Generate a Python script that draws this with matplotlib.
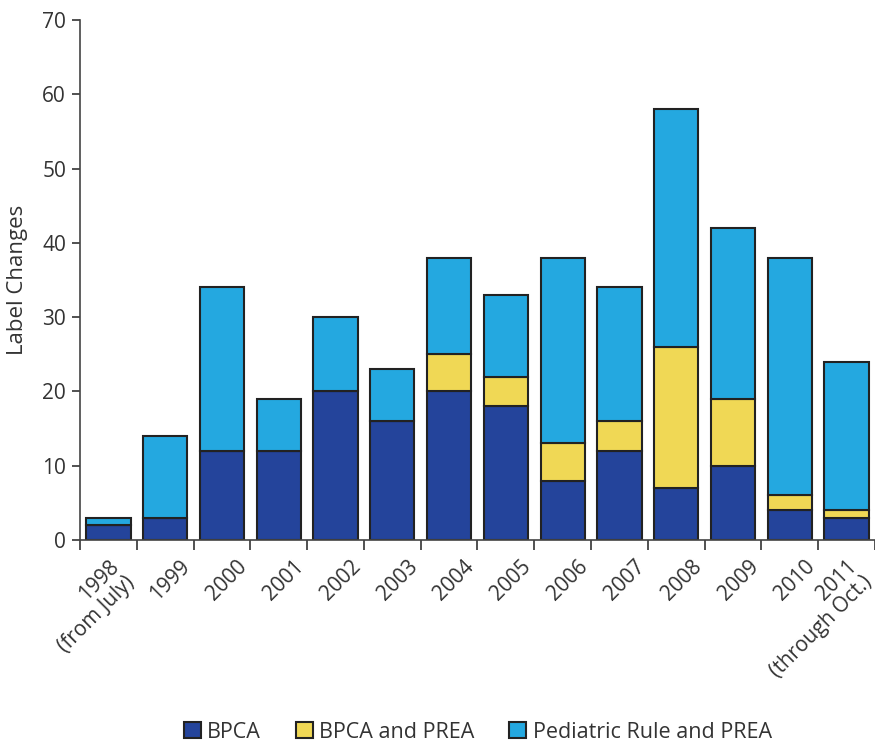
import matplotlib
matplotlib.use('Agg')
import matplotlib.pyplot as plt
import numpy as np

plt.rcParams['font.family'] = ['Open Sans', 'DejaVu Sans']

# 数据
years = ['1998\n(from July)', '1999', '2000', '2001', '2002', '2003', '2004',
         '2005', '2006', '2007', '2008', '2009', '2010', '2011\n(through Oct.)']
bpca = [2, 3, 12, 12, 20, 16, 20, 18, 8, 12, 7, 10, 4, 3]
bpca_prea = [0, 0, 0, 0, 0, 0, 5, 4, 5, 4, 19, 9, 2, 1]
ped_rule_prea = [1, 11, 22, 7, 10, 7, 13, 11, 25, 18, 32, 23, 32, 20]

COLORS = {
    'bpca': '#24449b',
    'bpca_prea': '#f0d855',
    'ped': '#24a8e0',
    'edge': '#222222',
    'text': '#333333',
}

fig = plt.figure(figsize=(8.75, 7.44), dpi=100)
ax = fig.add_axes([0.0914, 0.2742, 0.9086, 0.6989])

x = np.arange(len(years))
w = 0.78
b1 = np.array(bpca)
b2 = b1 + np.array(bpca_prea)
ax.bar(x, bpca, w, color=COLORS['bpca'], edgecolor=COLORS['edge'], linewidth=1.5, label='BPCA')
ax.bar(x, bpca_prea, w, bottom=b1, color=COLORS['bpca_prea'], edgecolor=COLORS['edge'],
       linewidth=1.5, label='BPCA and PREA')
ax.bar(x, ped_rule_prea, w, bottom=b2, color=COLORS['ped'], edgecolor=COLORS['edge'],
       linewidth=1.5, label='Pediatric Rule and PREA')

ax.set_xlim(-0.5, len(years) - 0.5)
ax.set_ylim(0, 70)
ax.set_yticks(range(0, 71, 10))
ax.tick_params(axis='y', labelsize=15, colors=COLORS['text'], length=6, width=1.2, pad=4)

# x 轴刻度在类别之间
ax.set_xticks(np.arange(-0.5, len(years), 1.0))
ax.set_xticklabels([])
ax.tick_params(axis='x', length=7, width=1.2, colors=COLORS['text'])
for i, lab in enumerate(years):
    xoff = 0.0 if '\n' in lab else 0.26
    ax.text(i + xoff, -2.2, lab, rotation=45, ha='right', va='top',
            rotation_mode='anchor', multialignment='right', linespacing=1.05,
            fontsize=15, color=COLORS['text'], clip_on=False)

for s in ['top', 'right']:
    ax.spines[s].set_visible(False)
for s in ['left', 'bottom']:
    ax.spines[s].set_color('#444444')
    ax.spines[s].set_linewidth(1.2)

ax.set_ylabel('Label Changes', fontsize=16, color=COLORS['text'], labelpad=10)

fig.legend(loc='center', bbox_to_anchor=(0.546, 0.016), ncol=3, frameon=False,
           fontsize=15.5, handlelength=0.8, handleheight=0.8, handletextpad=0.3,
           columnspacing=1.6, labelcolor=COLORS['text'])

fig.savefig('out.png', dpi=100, facecolor='white')
